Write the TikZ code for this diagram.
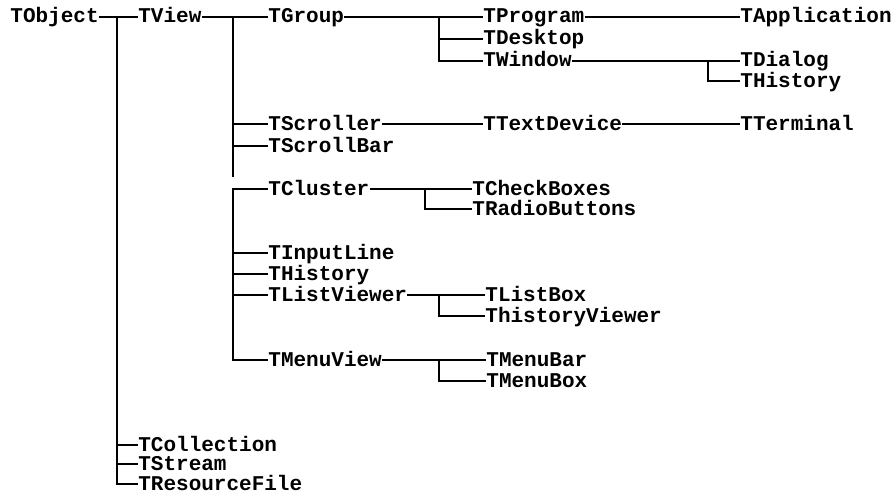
\documentclass[tikz,border=0pt]{standalone}
\usepackage{fontspec}
\newfontfamily\classfont{Liberation Mono}
\usetikzlibrary{positioning}

\begin{document}
\begin{tikzpicture}[
x=0.5pt,y=-0.5pt,
cls/.style={anchor=west,inner sep=0pt,text height=0.6em,text depth=0pt,font=\classfont\bfseries\fontsize{10.5}{12}\selectfont},
link/.style={line width=1pt}
]
\useasboundingbox (0,0) rectangle (896,498);
% class names
\node[cls] (tobject) at (10,17) {TObject};
\node[cls] (tview) at (138,17) {TView};
\node[cls] (tgroup) at (268,17) {TGroup};
\node[cls] (tprogram) at (483,17) {TProgram};
\node[cls] (tapplication) at (740,17) {TApplication};
\node[cls] (tdesktop) at (483,39) {TDesktop};
\node[cls] (twindow) at (483,61) {TWindow};
\node[cls] (tdialog) at (740,61) {TDialog};
\node[cls] (thistorya) at (740,81) {THistory};
\node[cls] (tscroller) at (268,124) {TScroller};
\node[cls] (ttextdevice) at (483,124) {TTextDevice};
\node[cls] (tterminal) at (740,124) {TTerminal};
\node[cls] (tscrollbar) at (268,146) {TScrollBar};
\node[cls] (tcluster) at (268,189) {TCluster};
\node[cls] (tcheckboxes) at (472,189) {TCheckBoxes};
\node[cls] (tradiobuttons) at (472,209) {TRadioButtons};
\node[cls] (tinputline) at (268,253) {TInputLine};
\node[cls] (thistoryb) at (268,274) {THistory};
\node[cls] (tlistviewer) at (268,295) {TListViewer};
\node[cls] (tlistbox) at (485,295) {TListBox};
\node[cls] (thistoryviewer) at (485,316) {ThistoryViewer};
\node[cls] (tmenuview) at (268,360) {TMenuView};
\node[cls] (tmenubar) at (486,360) {TMenuBar};
\node[cls] (tmenubox) at (486,381) {TMenuBox};
\node[cls] (tcollection) at (138,445) {TCollection};
\node[cls] (tstream) at (138,464) {TStream};
\node[cls] (tresourcefile) at (138,484) {TResourceFile};
% bars
\coordinate (bar1) at (117,17);
\coordinate (bar2) at (233,17);
\coordinate (bar2end) at (233,177);
\coordinate (bar2b) at (233,189);
\coordinate (bar3) at (439,17);
\coordinate (bar4) at (708,61);
\coordinate (bar5) at (425,189);
\coordinate (bar6) at (439,295);
\coordinate (bar7) at (439,360);
% TObject
\draw[link] (tobject.east) -- (tview.west);
\draw[link] (bar1) |- (tresourcefile.west);
\draw[link] (bar1 |- tcollection.west) -- (tcollection.west);
\draw[link] (bar1 |- tstream.west) -- (tstream.west);
% TView
\draw[link] (tview.east) -- (tgroup.west);
\draw[link] (bar2) -- (bar2end);
\draw[link] (bar2 |- tscroller.west) -- (tscroller.west);
\draw[link] (bar2 |- tscrollbar.west) -- (tscrollbar.west);
\draw[link] (tcluster.west) -- (bar2b) |- (tmenuview.west);
\draw[link] (bar2 |- tinputline.west) -- (tinputline.west);
\draw[link] (bar2 |- thistoryb.west) -- (thistoryb.west);
\draw[link] (bar2 |- tlistviewer.west) -- (tlistviewer.west);
% TGroup
\draw[link] (tgroup.east) -- (tprogram.west);
\draw[link] (bar3) |- (twindow.west);
\draw[link] (bar3 |- tdesktop.west) -- (tdesktop.west);
\draw[link] (tprogram.east) -- (tapplication.west);
% TWindow
\draw[link] (twindow.east) -- (tdialog.west);
\draw[link] (bar4) |- (thistorya.west);
% TScroller
\draw[link] (tscroller.east) -- (ttextdevice.west);
\draw[link] (ttextdevice.east) -- (tterminal.west);
% TCluster
\draw[link] (tcluster.east) -- (tcheckboxes.west);
\draw[link] (bar5) |- (tradiobuttons.west);
% TListViewer
\draw[link] (tlistviewer.east) -- (tlistbox.west);
\draw[link] (bar6) |- (thistoryviewer.west);
% TMenuView
\draw[link] (tmenuview.east) -- (tmenubar.west);
\draw[link] (bar7) |- (tmenubox.west);
\end{tikzpicture}
\end{document}
